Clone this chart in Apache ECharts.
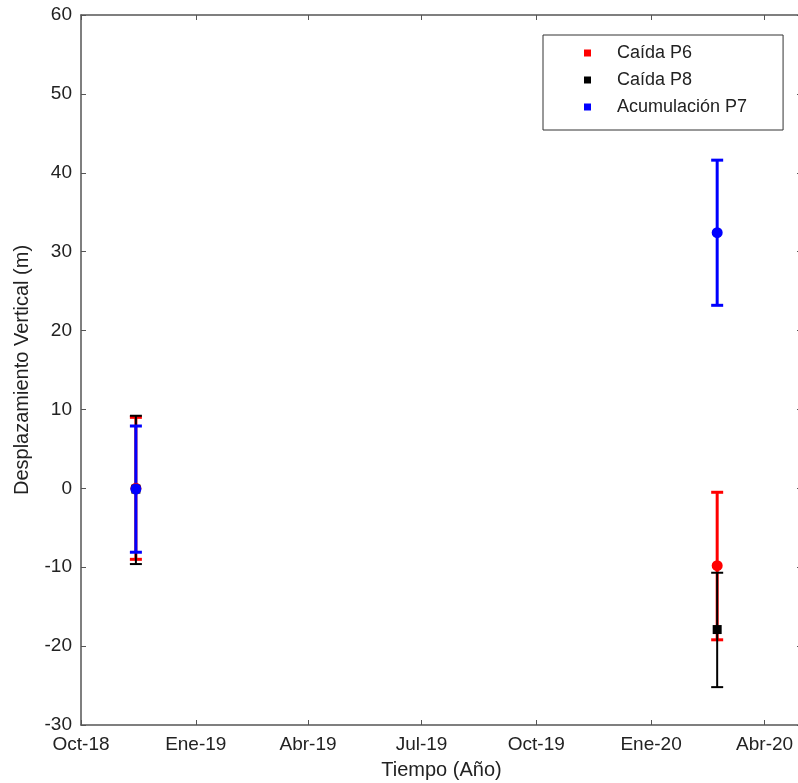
<!DOCTYPE html>
<html>
<head>
<meta charset="utf-8">
<script src="https://cdn.jsdelivr.net/npm/echarts@6/dist/echarts.min.js"></script>
<style>
  html, body { margin: 0; padding: 0; background: #fff; overflow: hidden; }
  #chart { width: 798px; height: 783px; }
</style>
</head>
<body>
<div id="chart"></div>
<script>
// quarterly tick positions and their labels
var tickDates = ['2018-10-01', '2019-01-01', '2019-04-01', '2019-07-01', '2019-10-01', '2020-01-01', '2020-04-01']
var tickLabels = ['Oct-18', 'Ene-19', 'Abr-19', 'Jul-19', 'Oct-19', 'Ene-20', 'Abr-20']
var yTicks = [-30, -20, -10, 0, 10, 20, 30, 40, 50, 60]

// survey dates
var dates = ['2018-11-14', '2020-02-23']

// Caída P6 (red)
var p6Value = [0.0, -9.8]
var p6Low = [-9.0, -19.2]
var p6High = [9.0, -0.5]

// Caída P8 (black)
var p8Value = [-0.1, -17.9]
var p8Low = [-9.6, -25.2]
var p8High = [9.2, -10.7]

// Acumulación P7 (blue)
var p7Value = [-0.1, 32.4]
var p7Low = [-8.1, 23.2]
var p7High = [7.9, 41.6]

// x axis runs in days counted from the first tick
var startDate = '2018-10-01'
var endDate = '2020-05-01'

function toDay(d) {
    return Math.round((Date.parse(d + 'T00:00:00Z') - Date.parse(startDate + 'T00:00:00Z')) / 86400000)
}

var tickDays = tickDates.map(toDay)

function errorSeries(name, color, width, low, high) {
    return {
        name: name + ' error',
        type: 'custom',
        renderItem: function (params, api) {
            var x = api.value(0)
            var top = api.coord([x, api.value(2)])
            var bot = api.coord([x, api.value(1)])
            var hw = 6
            var style = { stroke: color, lineWidth: width }
            return {
                type: 'group',
                children: [
                    { type: 'line', shape: { x1: top[0], y1: top[1], x2: bot[0], y2: bot[1] }, style: style },
                    { type: 'line', shape: { x1: top[0] - hw, y1: top[1], x2: top[0] + hw, y2: top[1] }, style: style },
                    { type: 'line', shape: { x1: bot[0] - hw, y1: bot[1], x2: bot[0] + hw, y2: bot[1] }, style: style }
                ]
            }
        },
        encode: { x: 0, y: [1, 2] },
        data: dates.map(function (d, i) { return [toDay(d), low[i], high[i]] }),
        silent: true
    }
}

function pointSeries(name, color, symbol, size, vals) {
    return {
        name: name,
        type: 'scatter',
        symbol: symbol,
        symbolSize: size,
        itemStyle: { color: color, opacity: 1 },
        data: dates.map(function (d, i) { return [toDay(d), vals[i]] })
    }
}

var chart = echarts.init(document.getElementById('chart'))

var textColor = '#222'
var axisColor = '#555'
var font = 'Liberation Sans'

var option = {
    animation: false,
    backgroundColor: '#fff',
    grid: { left: 81, top: 15, width: 721, height: 710, outerBoundsMode: 'none', containLabel: false },
    legend: {
        orient: 'vertical',
        left: 543,
        top: 35,
        padding: [9, 36, 14, 41],
        itemWidth: 7,
        itemHeight: 7,
        itemGap: 9,
        borderColor: '#333',
        borderWidth: 1,
        icon: 'rect',
        textStyle: {
            fontFamily: font,
            fontSize: 18,
            color: textColor,
            lineHeight: 18,
            padding: [0, 0, 0, 21]
        },
        data: ['Caída P6', 'Caída P8', 'Acumulación P7']
    },
    xAxis: [{
        type: 'value',
        min: 0,
        max: toDay(endDate),
        name: 'Tiempo (Año)',
        nameLocation: 'middle',
        nameGap: 35,
        nameTextStyle: { fontFamily: font, fontSize: 20, color: textColor },
        axisLine: { onZero: false, lineStyle: { color: axisColor, width: 1.5 } },
        axisTick: { inside: true, length: 5, customValues: tickDays, lineStyle: { color: axisColor } },
        axisLabel: {
            customValues: tickDays,
            margin: 10,
            fontFamily: font,
            fontSize: 19,
            color: textColor,
            formatter: function (v) {
                var i = tickDays.indexOf(v)
                return i >= 0 ? tickLabels[i] : ''
            }
        },
        splitLine: { show: false }
    }, {
        type: 'value',
        position: 'top',
        min: 0,
        max: toDay(endDate),
        axisLine: { onZero: false, lineStyle: { color: axisColor, width: 1.5 } },
        axisTick: { inside: true, length: 5, customValues: tickDays, lineStyle: { color: axisColor } },
        axisLabel: { show: false },
        splitLine: { show: false }
    }],
    yAxis: [{
        type: 'value',
        min: -30,
        max: 60,
        interval: 10,
        name: 'Desplazamiento Vertical (m)',
        nameLocation: 'middle',
        nameGap: 49,
        nameTextStyle: { fontFamily: font, fontSize: 20, color: textColor },
        axisLine: { show: true, onZero: false, lineStyle: { color: axisColor, width: 1.5 } },
        axisTick: { show: true, inside: true, length: 5, lineStyle: { color: axisColor } },
        axisLabel: {
            margin: 9,
            fontFamily: font,
            fontSize: 19,
            color: textColor,
            formatter: function (v) { return yTicks.indexOf(v) >= 0 ? String(v) : '' }
        },
        splitLine: { show: false }
    }, {
        type: 'value',
        position: 'right',
        min: -30,
        max: 60,
        interval: 10,
        axisLine: { show: true, onZero: false, lineStyle: { color: axisColor, width: 1.5 } },
        axisTick: { show: true, inside: true, length: 5, lineStyle: { color: axisColor } },
        axisLabel: { show: false },
        splitLine: { show: false }
    }],
    series: [
        errorSeries('Caída P6', '#ff0000', 3, p6Low, p6High),
        pointSeries('Caída P6', '#ff0000', 'circle', 11, p6Value),
        errorSeries('Caída P8', '#000000', 2, p8Low, p8High),
        pointSeries('Caída P8', '#000000', 'rect', 9, p8Value),
        errorSeries('Acumulación P7', '#0000ff', 3, p7Low, p7High),
        pointSeries('Acumulación P7', '#0000ff', 'circle', 11, p7Value)
    ]
}

chart.setOption(option)
</script>
</body>
</html>
